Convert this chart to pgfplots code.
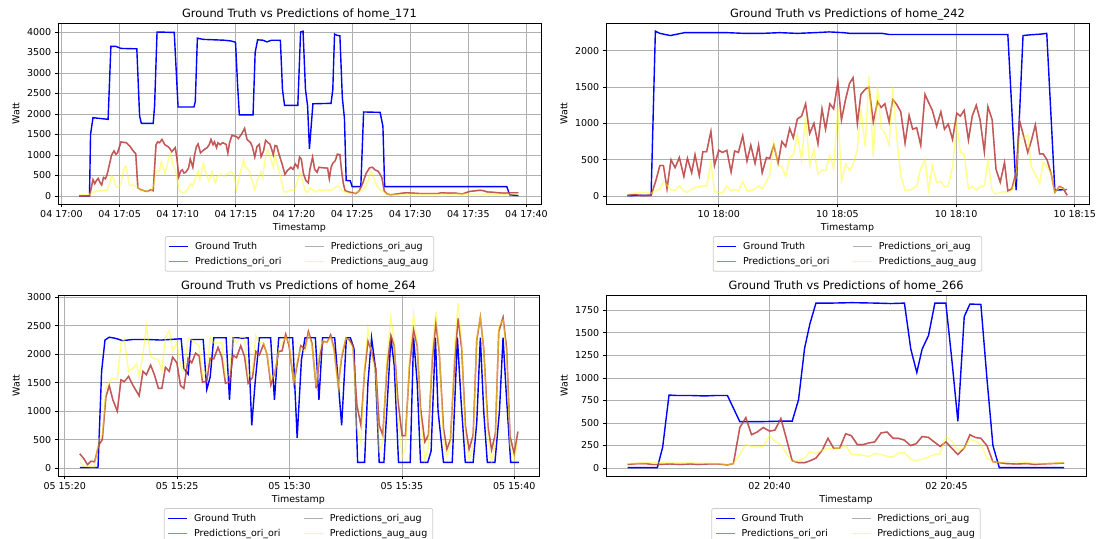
\documentclass[border=0pt]{standalone}
\usepackage{fontspec}
\setmainfont{DejaVu Sans}
\usepackage{pgfplots}
\usepackage{pgfplotstable}
\pgfplotsset{compat=1.18}
\definecolor{gridc}{RGB}{176,176,176}
\definecolor{legc}{RGB}{204,204,204}
\definecolor{mblue}{RGB}{0,0,255}
\definecolor{mred}{RGB}{255,0,0}
\definecolor{mgray}{RGB}{128,128,128}
\definecolor{myellow}{RGB}{255,255,0}
\definecolor{lred}{RGB}{255,100,100}
\definecolor{lgray}{RGB}{175,175,175}
\definecolor{lyellow}{RGB}{255,255,120}

% ---------------- home_171 ----------------
\pgfplotstableread[row sep=\\]{x y\\
1.51 0\\ 2.41 0\\ 2.50 1500\\ 2.71 1910\\ 4.01 1870\\ 4.25 3650\\ 4.67 3650\\ 5.12 3600\\ 6.48 3590\\ 6.72 1950\\ 6.87 1770\\ 7.89 1770\\ 8.01 2200\\ 8.22 4000\\ 9.70 3990\\ 10.03 2170\\ 11.39 2170\\ 11.51 2300\\ 11.69 3850\\ 12.20 3820\\ 14.01 3800\\ 14.61 3780\\ 14.97 3750\\ 15.15 2700\\ 15.30 1980\\ 16.48 1980\\ 16.66 3500\\ 16.87 3810\\ 17.32 3800\\ 17.68 3760\\ 18.07 3800\\ 18.83 3800\\ 19.01 2600\\ 19.19 2210\\ 20.33 2210\\ 20.57 4000\\ 20.78 4020\\ 20.99 2600\\ 21.17 2200\\ 21.33 1150\\ 21.63 2250\\ 23.19 2260\\ 23.34 2600\\ 23.49 3950\\ 23.70 3920\\ 23.95 3910\\ 24.16 2400\\ 24.34 1900\\ 24.49 380\\ 24.85 370\\ 25.00 230\\ 25.75 230\\ 25.99 2050\\ 27.41 2040\\ 27.65 1700\\ 27.80 230\\ 38.31 230\\ 38.55 30\\ 39.31 10\\
}\tAgt
\pgfplotstableread[row sep=\\]{x y\\
1.51 0\\ 2.41 0\\ 2.71 400\\ 2.86 300\\ 3.01 380\\ 3.16 430\\ 3.31 330\\ 3.46 270\\ 3.61 450\\ 3.77 420\\ 3.92 520\\ 4.07 700\\ 4.31 1000\\ 4.52 1100\\ 4.67 1020\\ 4.82 1050\\ 5.12 1320\\ 5.27 1310\\ 5.57 1300\\ 5.87 1220\\ 6.17 1100\\ 6.39 1030\\ 6.57 200\\ 6.78 160\\ 7.08 130\\ 7.38 110\\ 7.68 150\\ 7.89 130\\ 8.13 1250\\ 8.28 1320\\ 8.43 1300\\ 8.64 1380\\ 8.89 1250\\ 9.19 1200\\ 9.34 1150\\ 9.49 1080\\ 9.64 1130\\ 9.79 1180\\ 9.94 900\\ 10.09 470\\ 10.24 600\\ 10.39 640\\ 10.54 560\\ 10.69 580\\ 10.93 680\\ 11.08 900\\ 11.30 700\\ 11.45 1000\\ 11.60 1200\\ 11.75 1270\\ 11.96 1050\\ 12.14 1100\\ 12.35 1150\\ 12.50 1170\\ 12.71 1250\\ 12.86 1380\\ 13.04 1250\\ 13.16 1320\\ 13.34 1180\\ 13.46 1300\\ 13.64 1250\\ 13.86 1300\\ 14.16 1260\\ 14.31 1050\\ 14.46 1300\\ 14.67 1480\\ 14.91 1460\\ 15.06 1450\\ 15.21 1400\\ 15.51 1520\\ 15.75 1650\\ 15.96 1380\\ 16.27 1300\\ 16.42 1200\\ 16.63 950\\ 16.81 1200\\ 17.02 1260\\ 17.17 960\\ 17.38 1100\\ 17.56 1360\\ 17.77 1300\\ 17.92 1270\\ 18.07 1150\\ 18.22 1000\\ 18.37 1230\\ 18.52 1220\\ 18.73 1000\\ 18.98 780\\ 19.22 530\\ 19.43 620\\ 19.73 700\\ 19.91 650\\ 20.12 780\\ 20.33 690\\ 20.48 950\\ 20.63 900\\ 20.81 550\\ 21.02 380\\ 21.23 320\\ 21.36 630\\ 21.60 950\\ 21.78 650\\ 21.99 580\\ 22.14 700\\ 22.44 690\\ 22.89 680\\ 23.04 420\\ 23.19 700\\ 23.34 800\\ 23.55 860\\ 23.73 1020\\ 23.95 1010\\ 24.10 600\\ 24.25 300\\ 24.40 130\\ 24.70 100\\ 25.00 80\\ 25.30 60\\ 25.60 120\\ 25.90 300\\ 26.20 550\\ 26.51 690\\ 26.75 700\\ 26.96 640\\ 27.26 600\\ 27.56 450\\ 27.77 120\\ 28.01 50\\ 28.31 30\\ 28.61 40\\ 29.07 60\\ 29.67 80\\ 30.27 70\\ 30.87 60\\ 32.38 60\\ 32.68 80\\ 33.28 70\\ 33.89 70\\ 34.49 50\\ 34.79 80\\ 35.09 110\\ 35.69 130\\ 35.99 140\\ 36.30 130\\ 36.60 100\\ 37.20 90\\ 37.50 80\\ 38.10 70\\ 38.70 80\\ 39.31 80\\
}\tApr
\pgfplotstableread[row sep=\\]{x y\\
1.51 30\\ 2.41 40\\ 2.71 80\\ 3.01 120\\ 3.46 130\\ 3.92 140\\ 4.07 250\\ 4.31 490\\ 4.52 400\\ 4.67 220\\ 4.97 230\\ 5.12 300\\ 5.27 550\\ 5.42 700\\ 5.57 720\\ 5.72 450\\ 5.87 250\\ 6.17 270\\ 6.48 230\\ 6.78 150\\ 7.08 130\\ 7.38 120\\ 7.68 100\\ 7.98 300\\ 8.13 600\\ 8.28 620\\ 8.43 600\\ 8.58 840\\ 8.73 700\\ 8.89 530\\ 9.04 700\\ 9.19 900\\ 9.34 1030\\ 9.49 900\\ 9.64 700\\ 9.79 650\\ 9.94 400\\ 10.09 200\\ 10.24 100\\ 10.54 80\\ 10.84 150\\ 11.14 300\\ 11.30 250\\ 11.45 400\\ 11.60 500\\ 11.75 600\\ 11.90 400\\ 12.20 800\\ 12.50 500\\ 12.65 380\\ 12.80 460\\ 12.95 600\\ 13.10 400\\ 13.25 330\\ 13.40 480\\ 13.70 520\\ 14.01 480\\ 14.31 550\\ 14.61 600\\ 14.76 560\\ 14.91 400\\ 15.06 150\\ 15.36 550\\ 15.51 700\\ 15.66 880\\ 15.81 700\\ 15.96 680\\ 16.17 600\\ 16.42 350\\ 16.63 150\\ 16.87 400\\ 17.17 600\\ 17.32 450\\ 17.47 800\\ 17.62 1050\\ 17.77 1130\\ 17.92 1000\\ 18.07 850\\ 18.22 700\\ 18.37 1000\\ 18.52 850\\ 18.67 650\\ 18.98 300\\ 19.13 100\\ 19.43 100\\ 19.73 150\\ 20.03 130\\ 20.33 400\\ 20.51 560\\ 20.69 430\\ 20.93 150\\ 21.17 80\\ 21.39 200\\ 21.54 170\\ 21.84 100\\ 22.14 150\\ 22.44 130\\ 22.74 150\\ 23.19 140\\ 23.49 200\\ 23.80 250\\ 24.10 150\\ 24.40 100\\ 24.85 60\\ 25.15 60\\ 25.45 100\\ 25.90 150\\ 26.20 250\\ 26.51 500\\ 26.66 600\\ 26.81 500\\ 27.11 250\\ 27.41 150\\ 27.71 100\\ 28.01 40\\ 28.46 30\\ 30.00 40\\ 32.00 40\\ 34.00 45\\ 36.00 50\\ 38.00 40\\ 39.31 40\\
}\tAy

% ---------------- home_242 ----------------
\pgfplotstableread[row sep=\\]{x y\\
-3.85 5\\ -2.85 10\\ -2.67 2270\\ -2.48 2240\\ -2.04 2210\\ -1.44 2250\\ 0.34 2250\\ 1.08 2240\\ 1.83 2240\\ 2.57 2250\\ 3.31 2240\\ 4.06 2250\\ 4.65 2260\\ 5.25 2250\\ 5.54 2240\\ 6.88 2240\\ 7.18 2225\\ 12.18 2225\\ 12.53 80\\ 12.82 2210\\ 13.12 2220\\ 13.57 2230\\ 13.82 2240\\ 14.16 80\\ 14.68 90\\
}\tBgt
\pgfplotstableread[row sep=\\]{x y\\
-3.85 10\\ -3.52 20\\ -3.22 5\\ -2.85 10\\ -2.66 200\\ -2.48 420\\ -2.33 420\\ -2.18 100\\ -2.01 500\\ -1.84 390\\ -1.66 530\\ -1.47 270\\ -1.32 520\\ -1.14 320\\ -1.00 570\\ -0.82 280\\ -0.67 610\\ -0.51 610\\ -0.33 890\\ -0.18 420\\ 0.00 630\\ 0.16 600\\ 0.34 630\\ 0.52 330\\ 0.67 620\\ 0.83 600\\ 1.01 830\\ 1.19 480\\ 1.35 700\\ 1.53 450\\ 1.68 700\\ 1.83 320\\ 2.01 530\\ 2.15 520\\ 2.32 700\\ 2.50 450\\ 2.66 750\\ 2.82 680\\ 2.99 930\\ 3.14 800\\ 3.31 1060\\ 3.49 1100\\ 3.66 1270\\ 3.83 860\\ 4.01 1000\\ 4.18 720\\ 4.35 1200\\ 4.50 920\\ 4.68 1270\\ 4.84 1200\\ 5.02 1570\\ 5.17 1050\\ 5.35 1340\\ 5.51 1550\\ 5.66 1630\\ 5.84 1000\\ 5.99 1400\\ 6.17 1470\\ 6.33 1500\\ 6.51 1020\\ 6.69 1300\\ 6.84 1220\\ 7.00 1270\\ 7.18 1020\\ 7.33 1330\\ 7.50 1260\\ 7.67 1160\\ 7.85 730\\ 8.02 1110\\ 8.17 920\\ 8.34 940\\ 8.51 700\\ 8.69 1400\\ 8.84 1290\\ 9.00 1180\\ 9.18 960\\ 9.36 1160\\ 9.51 920\\ 9.67 990\\ 9.85 780\\ 10.03 1140\\ 10.18 1100\\ 10.34 1180\\ 10.52 770\\ 10.68 1100\\ 10.85 1250\\ 11.01 1050\\ 11.19 610\\ 11.34 1230\\ 11.52 1050\\ 11.68 370\\ 11.86 190\\ 12.04 460\\ 12.18 70\\ 12.35 100\\ 12.53 330\\ 12.67 1040\\ 12.85 820\\ 13.02 600\\ 13.17 760\\ 13.34 980\\ 13.52 580\\ 13.67 580\\ 13.83 500\\ 14.01 300\\ 14.16 50\\ 14.35 130\\ 14.50 110\\ 14.68 10\\
}\tBpr
\pgfplotstableread[row sep=\\]{x y\\
-3.85 30\\ -3.52 40\\ -3.22 50\\ -2.85 40\\ -2.66 70\\ -2.48 100\\ -2.33 200\\ -2.18 150\\ -2.01 80\\ -1.84 80\\ -1.66 140\\ -1.47 70\\ -1.32 50\\ -1.14 90\\ -1.00 120\\ -0.82 130\\ -0.67 140\\ -0.51 140\\ -0.33 460\\ -0.18 60\\ 0.00 50\\ 0.16 40\\ 0.34 140\\ 0.52 70\\ 0.67 90\\ 0.83 70\\ 1.01 200\\ 1.19 70\\ 1.35 70\\ 1.53 100\\ 1.68 140\\ 1.83 100\\ 2.01 200\\ 2.15 300\\ 2.32 750\\ 2.50 420\\ 2.66 400\\ 2.82 270\\ 2.99 530\\ 3.14 560\\ 3.31 850\\ 3.49 500\\ 3.66 1100\\ 3.83 420\\ 4.01 640\\ 4.18 300\\ 4.35 360\\ 4.50 350\\ 4.68 560\\ 4.84 380\\ 5.02 1220\\ 5.17 210\\ 5.35 440\\ 5.51 350\\ 5.66 430\\ 5.84 640\\ 5.99 1200\\ 6.17 680\\ 6.33 1650\\ 6.51 540\\ 6.69 1500\\ 6.84 930\\ 7.00 870\\ 7.18 700\\ 7.33 1500\\ 7.50 800\\ 7.67 280\\ 7.85 80\\ 8.02 80\\ 8.17 100\\ 8.34 140\\ 8.51 380\\ 8.69 500\\ 8.84 80\\ 9.00 420\\ 9.18 190\\ 9.36 200\\ 9.51 130\\ 9.67 140\\ 9.85 400\\ 10.03 1000\\ 10.18 600\\ 10.34 580\\ 10.52 100\\ 10.68 130\\ 10.85 80\\ 11.01 130\\ 11.19 140\\ 11.34 500\\ 11.52 70\\ 11.68 30\\ 11.86 50\\ 12.04 60\\ 12.18 50\\ 12.35 80\\ 12.53 250\\ 12.67 800\\ 12.85 800\\ 13.02 840\\ 13.17 400\\ 13.34 300\\ 13.52 170\\ 13.67 470\\ 13.83 400\\ 14.01 300\\ 14.16 50\\ 14.35 120\\ 14.50 100\\ 14.68 80\\
}\tBy

% ---------------- home_264 ----------------
\pgfplotstableread[row sep=\\]{x y\\
0.67 10\\ 1.48 10\\ 1.64 1700\\ 1.79 2250\\ 1.98 2300\\ 2.26 2280\\ 2.57 2240\\ 3.04 2260\\ 3.67 2260\\ 4.29 2250\\ 5.07 2270\\ 5.18 2270\\ 5.30 1750\\ 5.49 1650\\ 5.62 2260\\ 6.16 2260\\ 6.32 1380\\ 6.47 1600\\ 6.63 2290\\ 7.18 2290\\ 7.33 1200\\ 7.49 2290\\ 7.72 2290\\ 7.88 2280\\ 8.16 2290\\ 8.32 750\\ 8.47 1500\\ 8.66 2290\\ 9.16 2290\\ 9.33 1200\\ 9.52 2290\\ 10.14 2290\\ 10.34 530\\ 10.53 1900\\ 10.69 2290\\ 11.15 2290\\ 11.31 1200\\ 11.47 2290\\ 12.01 2290\\ 12.32 750\\ 12.53 2290\\ 12.71 2290\\ 12.87 2100\\ 13.03 100\\ 13.34 100\\ 13.49 1500\\ 13.65 2290\\ 13.81 1800\\ 13.99 100\\ 14.20 100\\ 14.51 2290\\ 14.66 1800\\ 14.85 100\\ 15.37 100\\ 15.52 2290\\ 15.68 1500\\ 15.83 100\\ 16.15 100\\ 16.30 300\\ 16.49 2290\\ 16.61 1000\\ 16.85 100\\ 17.24 100\\ 17.47 2290\\ 17.63 1200\\ 17.82 100\\ 18.17 100\\ 18.33 800\\ 18.49 2290\\ 18.64 1000\\ 18.80 100\\ 19.14 100\\ 19.34 1000\\ 19.50 2290\\ 19.66 1200\\ 19.84 100\\ 20.20 100\\
}\tCgt
\pgfplotstableread[row sep=\\]{x y\\
0.67 250\\ 0.86 160\\ 1.01 60\\ 1.17 120\\ 1.33 110\\ 1.51 400\\ 1.67 500\\ 1.83 1250\\ 1.98 1450\\ 2.14 1200\\ 2.34 1000\\ 2.50 1550\\ 2.65 1520\\ 2.84 1610\\ 3.04 1450\\ 3.31 1270\\ 3.48 1700\\ 3.63 1640\\ 3.82 1810\\ 3.98 1650\\ 4.17 1400\\ 4.32 1400\\ 4.48 1770\\ 4.65 1700\\ 4.80 1950\\ 4.99 1850\\ 5.15 1450\\ 5.30 1400\\ 5.49 1930\\ 5.65 1850\\ 5.82 2020\\ 5.98 1970\\ 6.13 1510\\ 6.32 1530\\ 6.47 1930\\ 6.63 1920\\ 6.82 2120\\ 6.99 1950\\ 7.15 1490\\ 7.33 1520\\ 7.49 1980\\ 7.64 1940\\ 7.83 2150\\ 8.00 1960\\ 8.16 1490\\ 8.35 1590\\ 8.50 2050\\ 8.66 1990\\ 8.85 2180\\ 9.00 2000\\ 9.17 1460\\ 9.36 1700\\ 9.52 2050\\ 9.67 2060\\ 9.83 2350\\ 9.98 2150\\ 10.19 1490\\ 10.34 1820\\ 10.50 2150\\ 10.69 2100\\ 10.84 2400\\ 11.00 2190\\ 11.19 1400\\ 11.34 1960\\ 11.50 2230\\ 11.67 2210\\ 11.83 2340\\ 11.98 2100\\ 12.17 1450\\ 12.32 1950\\ 12.51 2280\\ 12.67 2250\\ 12.82 2150\\ 13.00 1100\\ 13.18 750\\ 13.34 1700\\ 13.49 2230\\ 13.65 2050\\ 13.84 1750\\ 13.99 750\\ 14.15 580\\ 14.34 1800\\ 14.51 2330\\ 14.66 2150\\ 14.82 1200\\ 15.01 570\\ 15.16 570\\ 15.34 1800\\ 15.52 2430\\ 15.68 2150\\ 15.83 1050\\ 16.02 460\\ 16.18 580\\ 16.35 1900\\ 16.51 2550\\ 16.66 2050\\ 16.85 700\\ 17.00 330\\ 17.16 500\\ 17.35 1900\\ 17.50 2630\\ 17.66 2100\\ 17.83 730\\ 17.99 330\\ 18.17 580\\ 18.33 2250\\ 18.49 2650\\ 18.64 2100\\ 18.83 730\\ 18.99 320\\ 19.16 600\\ 19.31 2400\\ 19.50 2650\\ 19.66 2100\\ 19.81 560\\ 20.00 250\\ 20.16 640\\
}\tCpr
\pgfplotstableread[row sep=\\]{x y\\
0.67 100\\ 0.86 30\\ 1.01 30\\ 1.17 20\\ 1.33 20\\ 1.51 500\\ 1.67 600\\ 1.83 1400\\ 1.98 1500\\ 2.14 1580\\ 2.34 1560\\ 2.50 2200\\ 2.65 2270\\ 2.84 1700\\ 3.04 1750\\ 3.20 1830\\ 3.31 1600\\ 3.48 2000\\ 3.63 2500\\ 3.82 1960\\ 3.98 1930\\ 4.17 1900\\ 4.32 1700\\ 4.48 2300\\ 4.65 2420\\ 4.80 2060\\ 4.99 2200\\ 5.15 1800\\ 5.30 1700\\ 5.49 2280\\ 5.65 2250\\ 5.82 2200\\ 5.98 2150\\ 6.13 1600\\ 6.32 1700\\ 6.47 2300\\ 6.63 2200\\ 6.82 2200\\ 6.99 2200\\ 7.15 1600\\ 7.33 1650\\ 7.49 2300\\ 7.64 2200\\ 7.83 2300\\ 8.00 2300\\ 8.16 1600\\ 8.35 1700\\ 8.50 2330\\ 8.66 2200\\ 8.85 2200\\ 9.00 2000\\ 9.17 1550\\ 9.36 1700\\ 9.52 2100\\ 9.67 2200\\ 9.83 2300\\ 9.98 2200\\ 10.19 1500\\ 10.34 1900\\ 10.50 2100\\ 10.69 2050\\ 10.84 2350\\ 11.00 2150\\ 11.19 1450\\ 11.34 2100\\ 11.50 2250\\ 11.67 2200\\ 11.83 2300\\ 11.98 2050\\ 12.17 1400\\ 12.32 2000\\ 12.51 2300\\ 12.67 2200\\ 12.82 2100\\ 13.00 700\\ 13.18 450\\ 13.34 1800\\ 13.49 2450\\ 13.65 2000\\ 13.84 1600\\ 13.99 300\\ 14.15 450\\ 14.34 2000\\ 14.51 2650\\ 14.66 2200\\ 14.82 900\\ 15.01 200\\ 15.16 350\\ 15.34 2000\\ 15.52 2700\\ 15.68 2200\\ 15.83 900\\ 16.02 150\\ 16.18 350\\ 16.35 2100\\ 16.51 2750\\ 16.66 2100\\ 16.85 500\\ 17.00 200\\ 17.16 400\\ 17.35 2200\\ 17.50 2900\\ 17.66 2200\\ 17.83 500\\ 17.99 150\\ 18.17 400\\ 18.33 2300\\ 18.49 2650\\ 18.64 2100\\ 18.83 500\\ 18.99 100\\ 19.16 450\\ 19.31 2500\\ 19.50 2600\\ 19.66 2000\\ 19.81 400\\ 20.00 150\\ 20.16 500\\
}\tCy

% ---------------- home_266 ----------------
\pgfplotstableread[row sep=\\]{x y\\
-4.01 5\\ -3.17 5\\ -3.02 230\\ -2.84 810\\ -2.62 805\\ -2.23 805\\ -1.83 800\\ -1.53 805\\ -1.19 805\\ -0.84 515\\ -0.64 515\\ -0.25 515\\ 0.25 520\\ 0.64 520\\ 0.82 760\\ 0.99 1330\\ 1.14 1600\\ 1.31 1830\\ 1.73 1830\\ 2.33 1835\\ 3.02 1830\\ 3.42 1825\\ 3.81 1830\\ 3.99 1320\\ 4.16 1060\\ 4.31 1320\\ 4.49 1470\\ 4.67 1830\\ 4.98 1830\\ 5.15 1200\\ 5.32 520\\ 5.50 1680\\ 5.66 1820\\ 5.97 1815\\ 6.14 1000\\ 6.31 250\\ 6.49 5\\ 8.32 5\\
}\tDgt
\pgfplotstableread[row sep=\\]{x y\\
-4.01 40\\ -3.71 50\\ -3.51 50\\ -3.32 40\\ -3.12 40\\ -2.82 45\\ -2.52 40\\ -2.23 45\\ -2.03 40\\ -1.73 45\\ -1.44 45\\ -1.19 35\\ -1.02 50\\ -0.84 450\\ -0.67 560\\ -0.51 370\\ -0.35 400\\ -0.18 450\\ 0.00 410\\ 0.15 420\\ 0.32 550\\ 0.48 320\\ 0.64 80\\ 0.82 60\\ 0.99 60\\ 1.14 80\\ 1.31 110\\ 1.49 200\\ 1.65 330\\ 1.81 220\\ 1.98 220\\ 2.15 380\\ 2.31 360\\ 2.48 260\\ 2.64 260\\ 2.82 280\\ 2.97 290\\ 3.15 390\\ 3.32 400\\ 3.49 330\\ 3.64 330\\ 3.81 310\\ 3.98 250\\ 4.14 270\\ 4.31 350\\ 4.49 340\\ 4.65 290\\ 4.82 240\\ 4.98 290\\ 5.15 220\\ 5.32 150\\ 5.50 220\\ 5.66 370\\ 5.81 340\\ 5.97 330\\ 6.14 250\\ 6.31 70\\ 6.49 60\\ 6.68 50\\ 6.98 45\\ 7.28 50\\ 7.48 40\\ 7.67 45\\ 7.97 50\\ 8.32 55\\
}\tDpr
\pgfplotstableread[row sep=\\]{x y\\
-4.01 50\\ -3.71 55\\ -3.42 60\\ -3.12 60\\ -2.82 60\\ -2.52 55\\ -2.23 60\\ -2.03 55\\ -1.73 55\\ -1.44 50\\ -1.19 40\\ -1.02 50\\ -0.84 150\\ -0.67 260\\ -0.51 240\\ -0.35 230\\ -0.18 240\\ 0.00 360\\ 0.15 300\\ 0.32 260\\ 0.48 160\\ 0.64 70\\ 0.82 80\\ 0.99 110\\ 1.14 180\\ 1.31 160\\ 1.49 200\\ 1.65 220\\ 1.81 210\\ 1.98 220\\ 2.15 250\\ 2.31 150\\ 2.48 150\\ 2.64 140\\ 2.82 130\\ 2.97 160\\ 3.15 150\\ 3.32 130\\ 3.49 120\\ 3.64 170\\ 3.81 170\\ 3.98 100\\ 4.14 80\\ 4.31 100\\ 4.49 120\\ 4.65 150\\ 4.82 160\\ 4.98 350\\ 5.15 300\\ 5.32 200\\ 5.50 220\\ 5.66 320\\ 5.81 300\\ 5.97 260\\ 6.14 110\\ 6.31 70\\ 6.49 60\\ 6.68 70\\ 6.98 70\\ 7.28 60\\ 7.48 55\\ 7.67 50\\ 7.97 55\\ 8.32 60\\
}\tDy

\pgfplotsset{
  gt/.style={mblue, line width=1.4bp},
  pr/.style={mred, draw opacity=0.8, line width=1.4bp},
  pg/.style={mgray, draw opacity=0.5, line width=1.4bp},
  py/.style={myellow, draw opacity=0.45, line width=1.4bp},
  panel/.style={
    scale only axis, width=483bp, height=181bp,
    axis line style={line width=0.75bp, black},
    grid=major, major grid style={line width=0.75bp, gridc},
    tick align=outside, xtick pos=bottom, ytick pos=left,
    major tick length=3.3bp,
    every tick/.style={line width=0.75bp, black},
    tick label style={font=\fontsize{9.5bp}{11bp}\selectfont},
    label style={font=\fontsize{9.5bp}{11bp}\selectfont},
    title style={font=\fontsize{11.4bp}{13.5bp}\selectfont, at={(axis description cs:0.5,1)}, anchor=base},
    xlabel={Timestamp}, ylabel={Watt},
    xlabel style={at={(axis description cs:0.5,-0.1326)}, anchor=center},
    ylabel style={at={(axis description cs:-0.087,0.5)}, anchor=center},
    /pgf/number format/assume math mode=true,
    /pgf/number format/1000 sep={},
    scaled ticks=false,
    legend columns=2,
    legend cell align=left,
    legend image code/.code={\draw[##1] (0bp,0bp) -- (19bp,0bp);},
    legend style={at={(0.5,-0.177)}, anchor=north, draw=legc, fill=white,
      rounded corners=2bp, font=\fontsize{9.5bp}{11bp}\selectfont,
      line width=0.75bp, inner xsep=3.5bp, inner ysep=3.5bp, row sep=2.5bp,
      /tikz/every odd column/.append style={column sep=4bp},
      /tikz/every even column/.append style={column sep=21bp}},
  }
}
\newcommand\mylegend{%
  \addlegendimage{mblue, line width=1.4bp}\addlegendentry{Ground Truth}
  \addlegendimage{lgray, line width=1.4bp}\addlegendentry{Predictions\_ori\_aug}
  \addlegendimage{lred, line width=1.4bp}\addlegendentry{Predictions\_ori\_ori}
  \addlegendimage{lyellow, line width=1.4bp}\addlegendentry{Predictions\_aug\_aug}
}

\begin{document}
\begin{tikzpicture}
\useasboundingbox (0,0) rectangle (1103bp,539bp);

\begin{axis}[panel, at={(58bp,335bp)}, anchor=south west,
  title={Ground Truth vs Predictions of home\_171},
  xmin=-0.3, xmax=41.25, ymin=-195, ymax=4220,
  xtick={0,5,...,40},
  xticklabels={04 17:00,04 17:05,04 17:10,04 17:15,04 17:20,04 17:25,04 17:30,04 17:35,04 17:40},
  ytick={0,500,...,4000}]
\mylegend
\addplot[gt, forget plot] table {\tAgt};
\addplot[pr, forget plot] table {\tApr};
\addplot[pg, forget plot] table {\tApr};
\addplot[py, forget plot] table {\tAy};
\end{axis}

\begin{axis}[panel, at={(606bp,335bp)}, anchor=south west,
  title={Ground Truth vs Predictions of home\_242},
  xmin=-4.75, xmax=15.6, ymin=-110, ymax=2383,
  xtick={0,5,10,15},
  xticklabels={10 18:00,10 18:05,10 18:10,10 18:15},
  ytick={0,500,...,2000}]
\mylegend
\addplot[gt, forget plot] table {\tBgt};
\addplot[pr, forget plot] table {\tBpr};
\addplot[pg, forget plot] table {\tBpr};
\addplot[py, forget plot] table {\tBy};
\end{axis}

\begin{axis}[panel, at={(58bp,63bp)}, anchor=south west, width=481bp,
  title={Ground Truth vs Predictions of home\_264},
  xmin=-0.3, xmax=21.1, ymin=-140, ymax=3042,
  xtick={0,5,...,20},
  xticklabels={05 15:20,05 15:25,05 15:30,05 15:35,05 15:40},
  ytick={0,500,...,3000}]
\mylegend
\addplot[gt, forget plot] table {\tCgt};
\addplot[pr, forget plot] table {\tCpr};
\addplot[pg, forget plot] table {\tCpr};
\addplot[py, forget plot] table {\tCy};
\end{axis}

\begin{axis}[panel, at={(606bp,63bp)}, anchor=south west, width=480bp,
  title={Ground Truth vs Predictions of home\_266},
  xmin=-4.62, xmax=8.94, ymin=-88, ymax=1920,
  xtick={0,5},
  xticklabels={02 20:40,02 20:45},
  ytick={0,250,...,1750}]
\mylegend
\addplot[gt, forget plot] table {\tDgt};
\addplot[pr, forget plot] table {\tDpr};
\addplot[pg, forget plot] table {\tDpr};
\addplot[py, forget plot] table {\tDy};
\end{axis}
\end{tikzpicture}
\end{document}
